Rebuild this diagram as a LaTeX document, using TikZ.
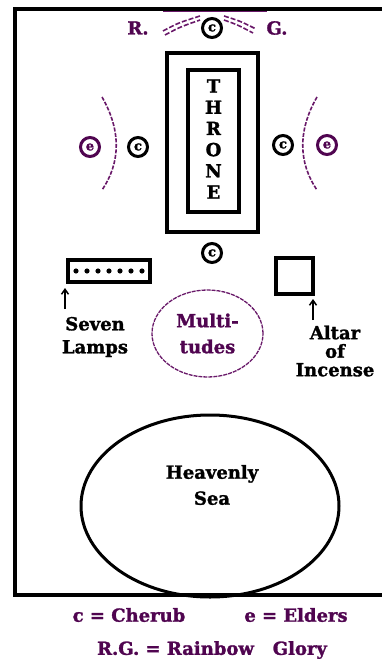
\documentclass[tikz,border=0pt]{standalone}
\usepackage{fontspec}
\setmainfont{DejaVu Serif}
\newfontface\heavy{DejaVu Serif Bold}[FakeBold=1.5]
\usetikzlibrary{shapes.geometric,arrows.meta}
\definecolor{rgpurple}{RGB}{80,5,80}
\definecolor{arcpurple}{RGB}{105,25,105}
\tikzset{
  lbl/.style={font=\heavy\fontsize{18}{23}\selectfont, align=center, inner sep=0pt},
  cher/.style={circle, draw, line width=3pt, inner sep=0pt, minimum size=19pt,
    font=\heavy\fontsize{13}{13}\selectfont},
  elder/.style={cher, draw=rgpurple, text=rgpurple},
  box/.style={draw, line width=3.5pt, inner sep=0pt},
  glory/.style={arcpurple, line width=1.6pt, dashed, dash pattern=on 5pt off 2pt},
  pointer/.style={-{Straight Barb[length=5pt,width=7pt]}, line width=1.5pt}
}
\begin{document}
\begin{tikzpicture}[x=1pt, y=-1pt]
\useasboundingbox (0,0) rectangle (381,661);
% outer frame
\draw[line width=4.5pt] (15,9) rectangle (390,595);
\draw[arcpurple, line width=1pt] (163,12) -- (267,12);
% rainbow glory
\node[cher] (ctop) at (212,28) {c};
\node[lbl, text=rgpurple] (rr) at (138,28) {R.};
\node[lbl, text=rgpurple] (gg) at (277,28) {G.};
\draw[glory] (163,31) .. controls (178,23) .. (200,16);
\draw[glory] (165,35) .. controls (180,27) .. (200,20);
\draw[glory] (224,16) .. controls (240,21) .. (256,29);
\draw[glory] (224,20) .. controls (238,25) .. (253,33);
% throne
\node[box, minimum width=91pt, minimum height=179pt] (throne) at (212.5,142.5) {};
\node[box, minimum width=51pt, minimum height=142pt] (seat) at (213.5,141) {};
\node[font=\heavy\fontsize{18}{21.2}\selectfont, align=center, inner sep=0pt] (word) at (213.5,139)
  {T\\H\\R\\O\\N\\E};
% cherubim and elders
\node[cher] (cleft) at (138,147) {c};
\node[cher] (cright) at (283,145) {c};
\node[cher] (cbottom) at (212,253) {c};
\node[elder] (eleft) at (90,147) {e};
\node[elder] (eright) at (327,145) {e};
\draw[glory, dash pattern=on 4pt off 1.5pt] (102,97) .. controls (121,130) and (121,162) .. (102,190);
\draw[glory, dash pattern=on 4pt off 1.5pt] (317,97) .. controls (298,130) and (298,162) .. (317,190);
% seven lamps
\node[box, minimum width=82pt, minimum height=22pt] (lamps) at (109,271) {};
\foreach \i in {0,...,6}
  \fill (76+11*\i,271) circle (2.6pt);
\node[lbl] (lamptxt) at (95,337) {Seven\\Lamps};
\coordinate (lamptail) at (65,309);
\coordinate (lamphead) at (65,288);
\draw[pointer] (lamptail) -- (lamphead);
% altar of incense
\node[box, minimum width=37pt, minimum height=36pt] (altar) at (294.5,276) {};
\node[lbl, font=\heavy\fontsize{18}{18.5}\selectfont] (altartxt) at (335,351) {Altar\\of\\Incense};
\coordinate (altartail) at (313,320);
\coordinate (altarhead) at (313,299);
\draw[pointer] (altartail) -- (altarhead);
% multitudes
\node[ellipse, draw=arcpurple, dash pattern=on 4pt off 1pt, line width=1.3pt, minimum width=111pt, minimum height=87pt,
  inner sep=0pt, text=rgpurple, font=\heavy\fontsize{18}{26}\selectfont, align=center] (crowd) at (207.5,333.5)
  {Multi-\\tudes};
% heavenly sea
\node[ellipse, draw, line width=3pt, minimum width=258pt, minimum height=182pt] (sea) at (210,506) {};
\node[lbl, font=\heavy\fontsize{18}{26}\selectfont] (seatxt) at (212,485) {Heavenly\\Sea};
% legend
\node[lbl, text=rgpurple] (leg1) at (129,615) {c = Cherub};
\node[lbl, text=rgpurple] (leg2) at (296,615) {e = Elders};
\node[lbl, text=rgpurple] (leg3) at (212,650) {R.G. = Rainbow\ \ \ Glory};
\end{tikzpicture}
\end{document}
